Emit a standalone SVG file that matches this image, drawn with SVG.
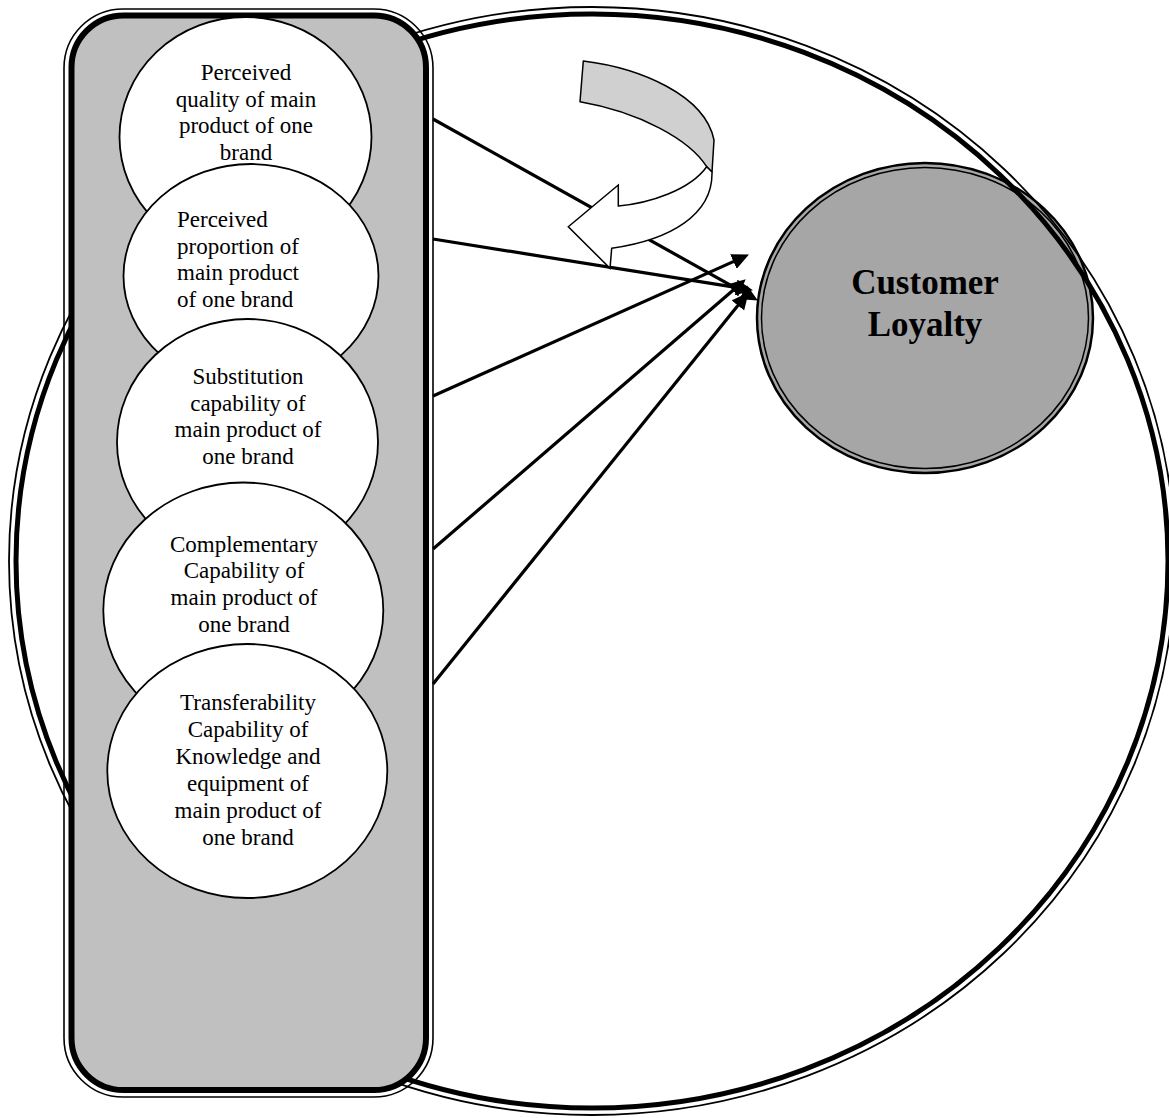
<svg xmlns="http://www.w3.org/2000/svg" width="1169" height="1118" viewBox="0 0 1169 1118">
<style>
.t{font-family:"Liberation Serif","Times New Roman",serif;font-size:23px;fill:#000}
.tc{text-anchor:middle}
.big{font-family:"Liberation Serif","Times New Roman",serif;font-size:35px;font-weight:bold;text-anchor:middle;fill:#000}
.node{fill:#fff;stroke:#000;stroke-width:1.8}
.conn{stroke:#000;stroke-width:3.2;fill:none;marker-end:url(#ah)}
</style>
<defs>
<marker id="ah" markerUnits="userSpaceOnUse" markerWidth="18" markerHeight="16" refX="6" refY="8" orient="auto">
<path d="M0,0 L17,8 L0,16 Z" fill="#000"/>
</marker>
</defs>
<rect x="0" y="0" width="1169" height="1118" fill="#fff"/>
<g id="customer-loyalty">
<ellipse cx="925" cy="318" rx="168" ry="155" fill="#A6A6A6" stroke="#000" stroke-width="2.5"/>
<ellipse cx="925" cy="318" rx="163.5" ry="150.5" fill="none" stroke="#000" stroke-width="1.5"/>
<text class="big" x="925" y="294">Customer</text>
<text class="big" x="925" y="336">Loyalty</text>
</g>
<g id="outer-circle">
<ellipse cx="592" cy="561" rx="583" ry="554" fill="none" stroke="#000" stroke-width="1.8"/>
<ellipse cx="592" cy="561" rx="576" ry="547" fill="none" stroke="#000" stroke-width="5"/>
</g>
<g id="group-box">
<rect x="64" y="9" width="369" height="1088" rx="59" ry="59" fill="none" stroke="#000" stroke-width="1.6"/>
<rect x="71.5" y="15.5" width="354.5" height="1074.5" rx="52" ry="52" fill="#C0C0C0" stroke="#000" stroke-width="6"/>
</g>
<g id="node1">
<ellipse class="node" cx="245.5" cy="137" rx="126" ry="120"/>
<text class="t tc" x="246" y="80">Perceived</text>
<text class="t tc" x="246" y="106.7">quality of main</text>
<text class="t tc" x="246" y="133.3">product of one</text>
<text class="t tc" x="246" y="160">brand</text>
</g>
<g id="node2">
<ellipse class="node" cx="251" cy="276" rx="127.5" ry="112"/>
<text class="t" x="177" y="227">Perceived</text>
<text class="t" x="177" y="253.5">proportion of</text>
<text class="t" x="177" y="280">main product</text>
<text class="t" x="177" y="306.7">of one brand</text>
</g>
<g id="node3">
<ellipse class="node" cx="247.5" cy="442" rx="130.5" ry="123"/>
<text class="t tc" x="248" y="384">Substitution</text>
<text class="t tc" x="248" y="410.7">capability of</text>
<text class="t tc" x="248" y="437.3">main product of</text>
<text class="t tc" x="248" y="464">one brand</text>
</g>
<g id="node4">
<ellipse class="node" cx="243.3" cy="610.5" rx="140" ry="128"/>
<text class="t tc" x="244" y="551.5">Complementary</text>
<text class="t tc" x="244" y="578.2">Capability of</text>
<text class="t tc" x="244" y="604.9">main product of</text>
<text class="t tc" x="244" y="631.6">one brand</text>
</g>
<g id="node5">
<ellipse class="node" cx="247.3" cy="771" rx="140" ry="127"/>
<text class="t tc" x="248" y="710">Transferability</text>
<text class="t tc" x="248" y="737">Capability of</text>
<text class="t tc" x="248" y="764">Knowledge and</text>
<text class="t tc" x="248" y="791">equipment of</text>
<text class="t tc" x="248" y="818">main product of</text>
<text class="t tc" x="248" y="845">one brand</text>
</g>
<g id="connectors">
<line class="conn" x1="433" y1="119" x2="748.3" y2="295.1"/>
<line class="conn" x1="433" y1="239" x2="742.1" y2="288.4"/>
<line class="conn" x1="433" y1="396" x2="738.9" y2="259.1"/>
<line class="conn" x1="433" y1="549" x2="737.4" y2="286.5"/>
<line class="conn" x1="433" y1="684" x2="741.7" y2="300.8"/>
</g>
<g id="curved-arrow">
<path d="M583.3,61 C640,68 705,95 714,140 L712,172 L706.7,166.7 C690,140 640,112 580,101.7 Z" fill="#D0D0D0" stroke="#000" stroke-width="1.5" stroke-linejoin="round"/>
<path d="M706.7,166.7 L712,172 C713,215 670,240 611.7,248.3 L610,268.3 L568.3,226.7 L618.3,185 L618.3,206 C650,203 690,190 706.7,166.7 Z" fill="#fff" stroke="#000" stroke-width="1.5" stroke-linejoin="miter"/>
</g>
</svg>
